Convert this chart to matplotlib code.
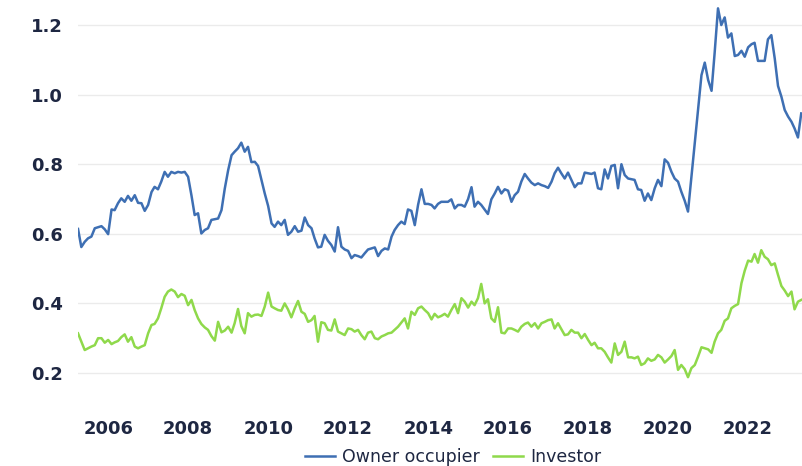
import numpy as np
import pandas as pd
import matplotlib
matplotlib.use('Agg')
import matplotlib.pyplot as plt
import matplotlib.dates as mdates

# monthly series, Apr 2005 onward
owner_occupier = [
    0.614, 0.562, 0.577, 0.587, 0.592, 0.616, 0.619, 0.622, 0.613, 0.599,
    0.670, 0.668, 0.688, 0.702, 0.692, 0.709, 0.695, 0.711, 0.689, 0.688,
    0.666, 0.683, 0.720, 0.735, 0.728, 0.750, 0.778, 0.764, 0.778, 0.774,
    0.778, 0.776, 0.778, 0.764, 0.710, 0.654, 0.659, 0.601, 0.611, 0.616,
    0.640, 0.642, 0.644, 0.668, 0.730, 0.783, 0.826, 0.836, 0.846, 0.862,
    0.836, 0.850, 0.806, 0.807, 0.795, 0.755, 0.716, 0.680, 0.630, 0.620,
    0.635, 0.625, 0.640, 0.597, 0.606, 0.622, 0.606, 0.609, 0.647, 0.625,
    0.616, 0.587, 0.561, 0.563, 0.597, 0.580, 0.568, 0.549, 0.619, 0.563,
    0.555, 0.551, 0.530, 0.539, 0.536, 0.532, 0.544, 0.555, 0.558, 0.561,
    0.536, 0.551, 0.558, 0.555, 0.592, 0.611, 0.625, 0.635, 0.628, 0.670,
    0.666, 0.625, 0.683, 0.728, 0.686, 0.686, 0.683, 0.673, 0.686, 0.692,
    0.692, 0.692, 0.699, 0.673, 0.683, 0.683, 0.678, 0.700, 0.734, 0.678,
    0.692, 0.683, 0.670, 0.657, 0.699, 0.716, 0.735, 0.716, 0.728, 0.724,
    0.692, 0.711, 0.721, 0.750, 0.772, 0.759, 0.747, 0.740, 0.745, 0.740,
    0.737, 0.732, 0.750, 0.774, 0.790, 0.774, 0.759, 0.776, 0.755, 0.734,
    0.745, 0.745, 0.776, 0.774, 0.772, 0.776, 0.731, 0.728, 0.785, 0.759,
    0.795, 0.798, 0.731, 0.800, 0.769, 0.759, 0.757, 0.755, 0.728, 0.726,
    0.695, 0.716, 0.697, 0.731, 0.755, 0.737, 0.814, 0.804, 0.778, 0.759,
    0.750, 0.721, 0.695, 0.664, 0.762, 0.860, 0.958, 1.056, 1.092, 1.042,
    1.011, 1.119, 1.248, 1.200, 1.222, 1.164, 1.176, 1.111, 1.114, 1.126,
    1.109, 1.136, 1.145, 1.149, 1.097, 1.097, 1.097, 1.159, 1.171, 1.104,
    1.025, 0.994, 0.956, 0.937, 0.922, 0.903, 0.877, 0.946,
]

investor = [
    0.314, 0.290, 0.266, 0.271, 0.276, 0.280, 0.300, 0.300, 0.287, 0.295,
    0.283, 0.288, 0.292, 0.303, 0.311, 0.290, 0.303, 0.276, 0.271, 0.276,
    0.280, 0.314, 0.338, 0.341, 0.357, 0.386, 0.419, 0.434, 0.440, 0.434,
    0.418, 0.427, 0.422, 0.395, 0.410, 0.381, 0.357, 0.341, 0.331, 0.324,
    0.306, 0.293, 0.347, 0.317, 0.322, 0.333, 0.316, 0.343, 0.384, 0.335,
    0.314, 0.372, 0.362, 0.367, 0.368, 0.364, 0.391, 0.431, 0.391, 0.386,
    0.381, 0.379, 0.400, 0.383, 0.360, 0.386, 0.407, 0.376, 0.370, 0.347,
    0.352, 0.364, 0.290, 0.346, 0.343, 0.324, 0.322, 0.354, 0.319, 0.314,
    0.309, 0.328, 0.326, 0.319, 0.324, 0.309, 0.297, 0.316, 0.319, 0.300,
    0.297, 0.305, 0.309, 0.314, 0.316, 0.324, 0.333, 0.345, 0.357, 0.328,
    0.376, 0.367, 0.386, 0.391, 0.381, 0.372, 0.354, 0.370, 0.360, 0.364,
    0.370, 0.362, 0.381, 0.398, 0.372, 0.415, 0.405, 0.388, 0.405, 0.395,
    0.415, 0.456, 0.400, 0.412, 0.357, 0.347, 0.389, 0.316, 0.314, 0.328,
    0.328, 0.324, 0.319, 0.333, 0.341, 0.345, 0.333, 0.343, 0.328, 0.343,
    0.347, 0.352, 0.354, 0.328, 0.343, 0.326, 0.309, 0.311, 0.324, 0.316,
    0.316, 0.300, 0.312, 0.295, 0.280, 0.287, 0.271, 0.271, 0.261, 0.245,
    0.230, 0.285, 0.252, 0.261, 0.290, 0.245, 0.245, 0.242, 0.247, 0.223,
    0.228, 0.242, 0.235, 0.239, 0.252, 0.245, 0.230, 0.239, 0.249, 0.266,
    0.209, 0.223, 0.211, 0.188, 0.214, 0.223, 0.247, 0.274, 0.271, 0.268,
    0.258, 0.290, 0.314, 0.324, 0.350, 0.357, 0.386, 0.393, 0.398, 0.458,
    0.494, 0.523, 0.520, 0.542, 0.517, 0.553, 0.534, 0.527, 0.510, 0.515,
    0.482, 0.450, 0.437, 0.421, 0.434, 0.383, 0.405, 0.410,
]

dates = pd.date_range('2005-04-01', periods=len(owner_occupier), freq='MS')
y_ticks = [0.2, 0.4, 0.6, 0.8, 1.0, 1.2]
tick_years = list(range(2006, 2024, 2))

colors = {
    'owner': '#3e6fb3',
    'investor': '#8fd94b',
    'grid': '#ebebeb',
    'text': '#1e2742',
}

fig = plt.figure(figsize=(8.02, 4.66), dpi=100)
ax = fig.add_axes([0.0973, 0.1249, 0.9027, 0.8751])

ax.plot(dates, owner_occupier, color=colors['owner'], linewidth=1.8, label='Owner occupier')
ax.plot(dates, investor, color=colors['investor'], linewidth=1.8, label='Investor')

ax.set_xlim(pd.Timestamp('2005-04-01'), pd.Timestamp('2023-05-08'))
ax.set_ylim(0.1, 1.272)

ax.set_yticks(y_ticks)
ax.set_yticklabels([f'{v:.1f}' for v in y_ticks])
ax.set_xticks([pd.Timestamp(f'{y}-01-01') for y in tick_years])
ax.xaxis.set_major_formatter(mdates.DateFormatter('%Y'))

ax.grid(axis='y', color=colors['grid'], linewidth=1.0)
ax.set_axisbelow(True)
for s in ax.spines.values():
    s.set_visible(False)
ax.tick_params(length=0, labelsize=13, labelcolor=colors['text'])
ax.tick_params(axis='y', pad=11)
ax.tick_params(axis='x', pad=9)
for lab in ax.get_xticklabels() + ax.get_yticklabels():
    lab.set_fontweight('bold')

# legend sits at the very bottom edge, as in the original
fig.legend(loc='center', bbox_to_anchor=(0.565, 0.02), ncol=2, frameon=False,
           fontsize=12.5, handlelength=1.7, handletextpad=0.4, columnspacing=0.8,
           borderpad=0, labelcolor=colors['text'])

fig.savefig('out.png', dpi=100)
